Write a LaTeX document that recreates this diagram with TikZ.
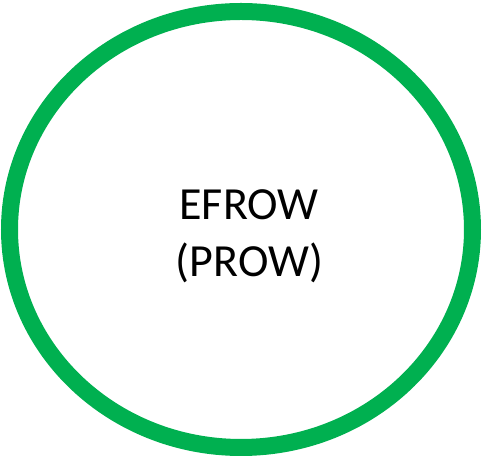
\documentclass[tikz,border=0pt]{standalone}
\usepackage{fontspec}
\setmainfont{Carlito}
\definecolor{ringgreen}{HTML}{00B050}
\begin{document}
\begin{tikzpicture}[x=1pt,y=1pt,
  ring/.style={draw=ringgreen,line width=17pt},
  label/.style={anchor=base,font=\fontsize{46}{56}\selectfont,inner sep=0pt}]
\useasboundingbox (0,0) rectangle (483,458);
\draw[ring] (241,228.5) ellipse [x radius=231.5, y radius=218];
\node[label] (t1) at (249,238) {EFROW};
\node[label] (t2) at (249.5,181) {(PROW)};
\end{tikzpicture}
\end{document}
